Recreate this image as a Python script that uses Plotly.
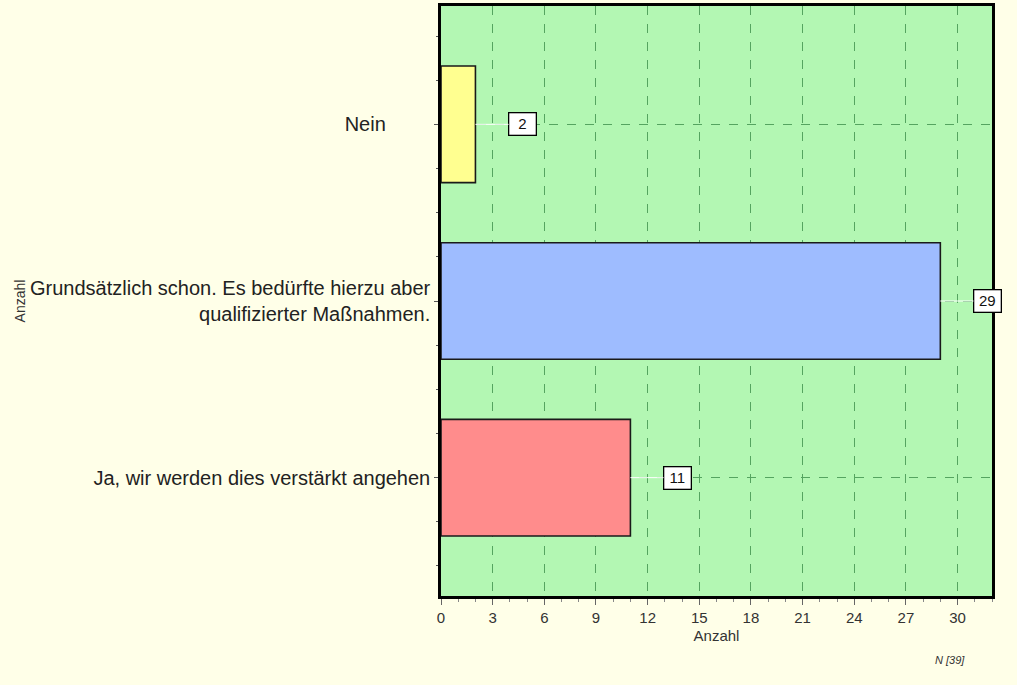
import plotly.graph_objects as go

categories = ["Ja, wir werden dies verstärkt angehen",
              "Grundsätzlich schon. Es bedürfte hierzu aber<br>qualifizierter Maßnahmen.",
              "Nein" + "\u00a0" * 8]
values = [11, 29, 2]
colors = ["#FF8C8C", "#9EBCFF", "#FFFF90"]
x_ticks = [0, 3, 6, 9, 12, 15, 18, 21, 24, 27, 30]

pos = list(range(len(categories)))

fig = go.Figure()
fig.add_trace(go.Bar(
    x=values, y=pos, orientation="h", width=0.66,
    marker=dict(color=colors, line=dict(color="#1a1a1a", width=1.6)),
    hoverinfo="x+y", showlegend=False,
))

for p, v in zip(pos, values):
    fig.add_annotation(
        x=v, y=p, xref="x", yref="y", text=str(v),
        showarrow=True, ax=47, ay=0, arrowhead=0, arrowwidth=1,
        arrowcolor="#FFFFFF", standoff=0,
        bgcolor="#FFFFFF", bordercolor="#000000", borderwidth=1.3, borderpad=2,
        font=dict(family="Liberation Sans, Arial", size=15, color="#111111"),
        width=22,
    )

fig.add_annotation(
    x=(967 - 441) / 551, y=-(668 - 596) / 593, xref="x domain", yref="y domain",
    text="<i>N [39]</i>", showarrow=False,
    font=dict(family="Liberation Sans, Arial", size=11, color="#333333"),
)

fig.update_layout(
    width=1017, height=685,
    paper_bgcolor="#FFFFE8",
    plot_bgcolor="#B3F7B3",
    margin=dict(l=441, r=25, t=3, b=89),
    font=dict(family="Liberation Sans, Arial", color="#222222"),
    xaxis=dict(
        range=[0, 32], tickvals=x_ticks, showgrid=True,
        gridcolor="#55A460", griddash="dash", gridwidth=1,
        ticks="outside", ticklen=6, tickcolor="#666666",
        minor=dict(dtick=1, tick0=0, ticks="outside", ticklen=3, tickcolor="#888888", showgrid=False),
        showline=True, linecolor="#000000", linewidth=2.5, mirror=True,
        tickfont=dict(size=15, color="#333333"),
        title=dict(text="Anzahl", font=dict(size=15, color="#333333"), standoff=6),
        zeroline=False,
    ),
    yaxis=dict(
        range=[-0.67, 2.67], tickvals=pos, ticktext=categories,
        showgrid=True, gridcolor="#55A460", griddash="dash", gridwidth=1,
        ticks="outside", ticklen=4, tickcolor="#555555",
        minor=dict(dtick=0.25, tick0=0, ticks="outside", ticklen=2, tickcolor="#555555", showgrid=False),
        showline=True, linecolor="#000000", linewidth=2.5, mirror=True,
        tickfont=dict(size=20, color="#222222"),
        title=dict(text="Anzahl", font=dict(size=14, color="#333333"), standoff=2),
        zeroline=False, automargin=False,
    ),
)

fig.write_html("out.html", config={"displayModeBar": False},
               post_script="document.body.style.margin='0';document.body.style.background='#FFFFE8';")
